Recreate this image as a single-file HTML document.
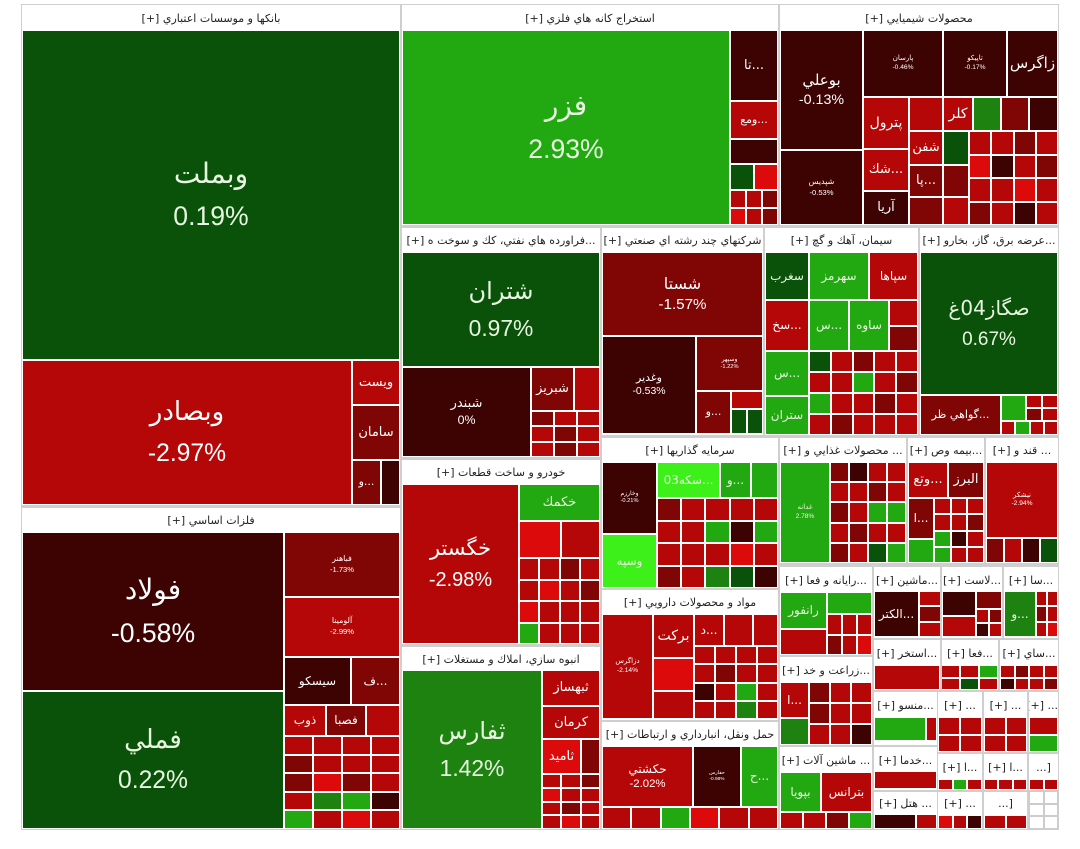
<!DOCTYPE html>
<html><head><meta charset="utf-8">
<style>
html,body{margin:0;padding:0;background:#fff;width:1080px;height:849px;overflow:hidden}
#map{position:absolute;left:21px;top:4px;width:1038px;height:826px;background:#cfcfcf}
.sec{position:absolute;background:#fff}
.hd{position:absolute;font:11px "DejaVu Sans",sans-serif;color:#222;text-align:center;white-space:nowrap;overflow:hidden;direction:rtl}
.c{position:absolute;display:flex;flex-direction:column;align-items:center;justify-content:center;color:#fff;font-family:"DejaVu Sans","Liberation Sans",sans-serif;overflow:hidden;text-align:center;line-height:1.35;white-space:nowrap}
.c.lt{color:#e8f5e0}
</style></head><body>
<div id="map"></div>
<script>
// sector headers: [x1,y1,x2,y2,headerHeight,title]
const sectorTitles=["بانکها و موسسات اعتباري [+]","فلزات اساسي [+]","استخراج کانه هاي فلزي [+]","محصولات شيميايي [+]","...فراورده هاي نفتي، کك و سوخت ه [+]","شرکتهاي چند رشته اي صنعتي [+]","سيمان، آهك و گچ [+]","...عرضه برق، گاز، بخارو [+]","خودرو و ساخت قطعات [+]","انبوه سازي، املاك و مستغلات [+]","سرمايه گذاريها [+]","مواد و محصولات دارويي [+]","حمل ونقل، انبارداري و ارتباطات [+]","... محصولات غذايي و [+]","...بيمه وص [+]","... قند و [+]","...رايانه و فعا [+]","...ماشين [+]","...لاست [+]","...سا [+]","...زراعت و خد [+]","...استخر [+]","...فعا [+]","...ساي [+]","...منسو [+]","... [+]","... [+]","... [+]","... ماشين آلات [+]","...خدما [+]","...ا [+]","...ا [+]","[...","... هتل [+]","... [+]","[...",""];
const sectorBoxes=[[22,5,400,505,25],[22,508,400,829,24],[402,5,778,225,25],[780,5,1058,225,25],[402,228,600,457,24],[602,228,763,435,24],[765,228,918,435,24],[920,228,1058,435,24],[402,460,600,644,24],[402,647,600,829,24],[602,438,778,588,24],[602,590,778,720,24],[602,722,778,829,24],[780,438,906,563,24],[908,438,984,563,24],[986,438,1058,563,24],[780,567,872,655,25],[874,567,940,638,25],[942,567,1002,638,25],[1004,567,1058,638,25],[780,657,872,745,25],[874,640,940,690,25],[942,640,998,690,25],[1000,640,1058,690,25],[874,692,937,745,25],[938,692,982,752,25],[984,692,1027,752,25],[1029,692,1058,752,25],[780,747,872,829,25],[874,747,937,790,25],[938,754,982,790,25],[984,754,1027,790,25],[1029,754,1058,790,25],[874,792,937,829,22],[938,792,982,829,22],[984,792,1027,829,22],[1029,792,1058,829,0]];
const palette={G:"#0a5209",L:"#22a811",K:"#1d8210",B:"#3ef01a",R:"#b50707",E:"#dc0a0a",M:"#800505",D:"#3d0202",W:"#ffffff"};
// named cells: [x1,y1,x2,y2,color,name,pct,fontSize]
const cells=[
[23,31,399,359,"G","وبملت","0.19%",28],
[23,361,351,504,"R","وبصادر","-2.97%",26],
[353,361,399,404,"R","ويست","",13],[353,406,399,459,"M","سامان","",13],[353,461,380,504,"M","...و","",11],[382,461,399,504,"D","","",10],
[23,533,283,690,"D","فولاد","-0.58%",28],
[23,692,283,828,"G","فملي","0.22%",26],
[285,533,399,596,"M","فباهنر","-1.73%",8],[285,598,399,656,"R","آلومينا","-2.99%",8],
[285,658,350,704,"D","سيسكو","",12],[352,658,399,704,"M","...ف","",12],
[285,706,325,735,"R","ذوب","",12],[327,706,365,735,"M","فصبا","",12],[367,706,399,735,"R","","",10],
[403,31,729,224,"L","فزر","2.93%",28],
[731,31,777,100,"D","...تا","",13],[731,102,777,138,"R","...ومع","",11],[731,140,777,163,"D","","",10],[731,165,753,189,"G","","",10],[755,165,777,189,"E","","",10],
[781,31,862,149,"D","بوعلي","-0.13%",15],[864,31,942,96,"D","پارسان","-0.46%",7],[944,31,1006,96,"D","تاپيكو","-0.17%",7],[1008,31,1057,96,"D","زاگرس","",15],
[781,151,862,224,"D","شپديس","-0.53%",8],
[864,98,908,148,"R","پترول","",14],[910,98,942,130,"R","","",10],[944,98,972,130,"R","كلر","",14],[974,98,1000,130,"K","","",10],[1002,98,1028,130,"M","","",10],[1030,98,1057,130,"D","","",10],
[864,150,908,190,"R","...شك","",13],[864,192,908,224,"D","آريا","",13],[910,132,942,164,"R","شفن","",13],[910,166,942,196,"M","...پا","",13],[910,198,942,224,"M","","",10],
[944,132,968,164,"G","","",10],[944,166,968,196,"M","","",10],[944,198,968,224,"R","","",10],
[403,253,599,366,"G","شتران","0.97%",24],
[403,368,530,456,"D","شبندر","0%",13],[532,368,573,410,"M","شبريز","",13],[575,368,599,410,"R","","",10],
[603,253,762,335,"M","شستا","-1.57%",16],
[603,337,695,433,"D","وغدير","-0.53%",11],[697,337,762,390,"M","وسپهر","-1.22%",6],
[697,392,730,433,"M","...و","",11],[732,392,762,408,"R","","",10],[732,410,746,433,"G","","",10],[748,410,762,433,"G","","",10],
[766,253,808,299,"G","سغرب","",12],[810,253,868,299,"L","سهرمز","",12],[870,253,917,299,"R","سپاها","",12],
[766,301,808,350,"R","...سخ","",12],[810,301,848,350,"L","...س","",12],[850,301,888,350,"L","ساوه","",12],[890,301,917,325,"R","","",10],[890,327,917,350,"M","","",10],
[766,352,808,395,"L","...س","",12],[766,397,808,434,"L","ستران","",12],
[921,253,1057,394,"G","صگاز04غ","0.67%",20],
[921,396,1000,434,"M","...گواهي ظر","",11],[1002,396,1025,420,"L","","",10],
[403,485,518,643,"R","خگستر","-2.98%",21],
[520,485,599,520,"L","خكمك","",13],[520,522,560,557,"E","","",10],[562,522,599,557,"R","","",10],
[403,671,541,828,"K","ثفارس","1.42%",24],
[543,671,599,705,"R","ثبهساز","",13],[543,707,599,738,"R","كرمان","",13],[543,740,580,773,"E","ثاميد","",13],[582,740,599,773,"M","","",10],
[603,463,656,533,"D","وخارزم","-0.21%",6],[658,463,719,497,"B","...سكه03","",12],[721,463,750,497,"L","...و","",12],[752,463,777,497,"L","","",10],
[603,535,656,587,"B","وسپه","",12],
[603,615,652,718,"R","دزاگرس","-2.14%",7],[654,615,693,657,"R","بركت","",14],[695,615,723,645,"R","...د","",12],[725,615,752,645,"R","","",10],[754,615,777,645,"R","","",10],
[654,659,693,690,"E","","",10],[654,692,693,718,"R","","",10],
[603,747,692,806,"R","حكشتي","-2.02%",12],[694,747,740,806,"D","حفارس","-0.98%",5],[742,747,777,806,"L","...ح","",12],
[781,463,829,562,"L","غدانه","2.78%",7],
[909,463,947,497,"R","...وتع","",13],[949,463,983,497,"M","البرز","",13],[909,499,933,538,"M","...ا","",12],[909,540,933,562,"L","","",10],
[987,463,1057,537,"R","نيشكر","-2.94%",7],
[781,593,826,628,"L","رانفور","",12],[828,593,871,613,"L","","",10],[781,630,826,654,"R","","",10],
[875,592,918,636,"D","...الكتر","",12],[1005,592,1035,636,"K","...و","",12],[943,592,975,615,"D","","",10],[977,592,1001,608,"M","","",10],[943,617,975,636,"R","","",10],
[781,683,808,717,"R","...ا","",12],[781,719,808,744,"K","","",10],
[875,666,939,689,"R","","",10],[875,718,925,740,"L","","",10],[927,718,936,740,"R","","",10],
[781,773,820,811,"L","بپويا","",12],[822,773,871,811,"R","بترانس","",12],
[875,772,936,788,"R","","",10],[875,815,915,828,"D","","",10],[917,815,936,828,"R","","",10]
];
// filler grids: [x1,y1,x2,y2,cols,rows,colors]
const grids=[
[285,737,399,828,4,5,"RRRRMRRRMEMRRKLDLRER"],
[731,191,777,224,3,2,"RRMERM"],
[970,132,1057,224,4,4,"RRMREDRMRRERMRDR"],
[532,412,599,456,3,3,"MRRRMRRMR"],
[732,337,762,337,1,1,"R"],
[810,352,917,434,5,4,"GRMRRRRLRMLRRMRRMRRR"],
[1002,422,1057,434,4,1,"RLRR"],
[1027,396,1057,420,2,2,"RRMR"],
[520,559,599,643,4,4,"RRMRRERMERRRLRRR"],
[543,775,599,828,3,4,"RRMERRRMRRER"],
[658,499,777,587,5,4,"MRRRRRRLDLRRRERMRKGD"],
[695,647,777,718,4,4,"RRRRRMRRDRLRRRKR"],
[603,808,777,828,6,1,"RRLERR"],
[831,463,905,562,4,5,"MDRRRRMRMRLLRMRRMRGL"],
[935,499,983,562,3,4,"RRRRRMLDRLRR"],
[987,539,1057,562,4,1,"MRDG"],
[828,615,871,654,3,2,"RRRMRE"],
[920,592,940,636,1,3,"RMR"],
[875,638,940,638,1,1,"R"],
[977,610,1001,636,2,2,"RMDR"],
[1037,592,1057,636,2,3,"RRMRRE"],
[810,683,871,744,3,3,"MRRMRRRRD"],
[942,666,997,689,3,2,"RRLRGR"],
[1001,666,1057,689,4,2,"RMRRDRRM"],
[939,718,981,751,2,2,"RRRR"],
[985,718,1026,751,2,2,"RRRR"],
[1030,718,1057,751,1,2,"RL"],
[781,813,871,828,4,1,"RRML"],
[939,780,981,789,3,1,"RLR"],
[985,780,1026,789,3,1,"RRR"],
[1030,780,1057,789,2,1,"RR"],
[939,816,981,828,3,1,"ERD"],
[985,816,1026,828,2,1,"RR"],
[1030,792,1057,828,2,3,"WWWWWW"]
];
const map=document.getElementById('map');
const OX=21,OY=4;
function box(x1,y1,x2,y2,cls){const d=document.createElement('div');d.className=cls;d.style.left=(x1-OX)+'px';d.style.top=(y1-OY)+'px';d.style.width=(x2-x1)+'px';d.style.height=(y2-y1)+'px';map.appendChild(d);return d;}
sectorBoxes.forEach((s,i)=>{
  const d=box(s[0],s[1],s[2],s[3],'sec');
  
  
  if(s[4]>0){const h=document.createElement('div');h.className='hd';h.style.left='0';h.style.width=(s[2]-s[0])+'px';h.style.top='0';h.style.height=s[4]+'px';h.style.lineHeight=(s[4]+2)+'px';h.textContent=sectorTitles[i];
  
  
  d.appendChild(h);}
});
cells.forEach(c=>{
  const d=box(c[0],c[1],c[2],c[3],'c');
  d.style.background=palette[c[4]];
  if(c[4]=="G"||c[4]=="L"||c[4]=="K"||c[4]=="B")d.classList.add('lt');
  d.style.fontSize=c[7]+'px';
  if(c[5]){const a=document.createElement('div');a.textContent=c[5];a.style.direction='rtl';d.appendChild(a);}
  if(c[6]){const b=document.createElement('div');b.textContent=c[6];b.style.fontFamily='"Liberation Sans",sans-serif';b.style.fontSize=(c[7]*0.95)+'px';if(c[7]>18)b.style.marginTop=(c[7]*0.25)+'px';d.appendChild(b);}
  
  
});
grids.forEach(g=>{
  const [x1,y1,x2,y2,cols,rows,cs]=g;const w=(x2-x1+2)/cols,h=(y2-y1+2)/rows;let k=0;
  if(x2-x1<2||y2-y1<2)return;
  for(let r=0;r<rows;r++)for(let q=0;q<cols;q++){
    const d=box(Math.round(x1+q*w),Math.round(y1+r*h),Math.round(x1+(q+1)*w-2),Math.round(y1+(r+1)*h-2),'c');
    const key=cs[k++%cs.length];d.style.background=palette[key];
    if(key=="W")d.style.outline='1px solid #ccc';
    
    
  }
});
</script>
</body></html>
